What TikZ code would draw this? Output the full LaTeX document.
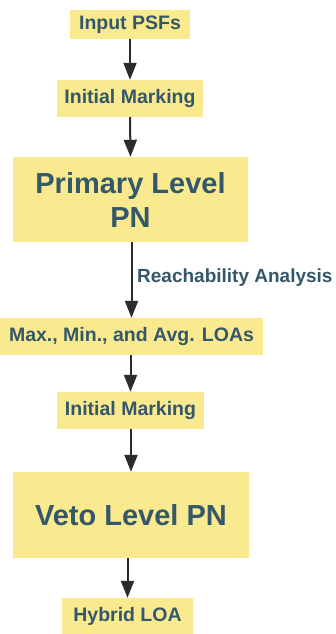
\documentclass[tikz,border=0pt]{standalone}
\usepackage{fontspec}
\setmainfont{Liberation Sans}
\usetikzlibrary{arrows.meta}
\definecolor{boxfill}{HTML}{F9EA8F}
\definecolor{txt}{HTML}{34586A}
\definecolor{arr}{HTML}{2B2B2B}
\begin{document}
\begin{tikzpicture}[x=1pt,y=-1pt,
  box/.style={rectangle, fill=boxfill, inner sep=0pt, text=txt, font=\bfseries\fontsize{19.5}{22}\selectfont, align=center},
  bigbox/.style={box, font=\bfseries\fontsize{29}{34}\selectfont},
  conn/.style={draw=arr, line width=2pt, -{Triangle[length=17pt,width=13pt]}},
  lbl/.style={text=txt, font=\bfseries\fontsize{19}{22}\selectfont, inner sep=0pt}]
\useasboundingbox (0,0) rectangle (336,634);
\fill[white] (0,0) rectangle (336,634);
\node[box, minimum width=120pt, minimum height=29pt] (b1) at (130,24.5) {Input PSFs};
\node[box, minimum width=146pt, minimum height=37pt] (b2) at (130,98.5) {Initial Marking};
\node[bigbox, minimum width=235pt, minimum height=85pt] (b3) at (130.5,199.5) {Primary Level\\PN};
\node[box, minimum width=263pt, minimum height=37pt] (b4) at (131.5,336.5) {Max., Min., and Avg. LOAs};
\node[box, minimum width=147pt, minimum height=37pt] (b5) at (130.5,410.5) {Initial Marking};
\node[bigbox, minimum width=236pt, minimum height=86pt] (b6) at (131,515) {Veto Level PN};
\node[box, minimum width=131pt, minimum height=36pt] (b7) at (127.5,616) {Hybrid LOA};
\draw[conn] (b1.south) -- (b2.north);
\draw[conn] (b2.south) -- (b3.north);
\draw[conn] (b3.south -| b4.north) -- (b4.north);
\node[lbl, anchor=west] (ra) at (137,278) {Reachability Analysis};
\draw[conn] (b4.south -| b5.north) -- (b5.north);
\draw[conn] (b5.south -| b6.north) -- (b6.north);
\draw[conn] (b6.south -| b7.north) -- (b7.north);
\end{tikzpicture}
\end{document}
